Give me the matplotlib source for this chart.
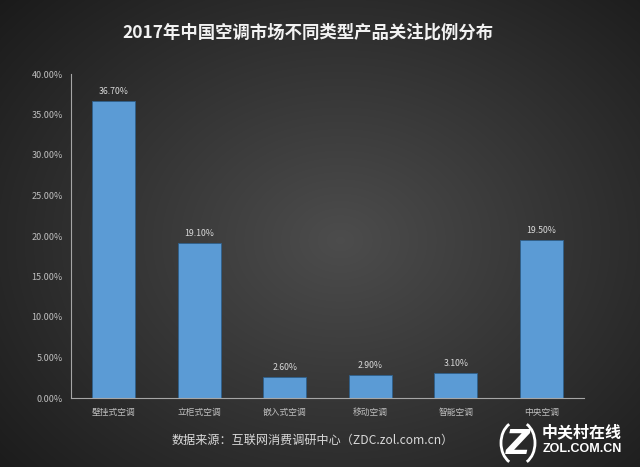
import numpy as np
import matplotlib
matplotlib.use("Agg")
import matplotlib.pyplot as plt
from matplotlib.patches import Arc

plt.rcParams['font.family'] = ['Noto Sans CJK SC', 'DejaVu Sans']

categories = ["壁挂式空调", "立柜式空调", "嵌入式空调", "移动空调", "智能空调", "中央空调"]
values = [36.70, 19.10, 2.60, 2.90, 3.10, 19.50]
yticks = [0, 5, 10, 15, 20, 25, 30, 35, 40]
title = "2017年中国空调市场不同类型产品关注比例分布"
source = "数据来源：互联网消费调研中心（ZDC.zol.com.cn）"

W, H = 640, 467
fig = plt.figure(figsize=(W/100, H/100), dpi=100)

# radial gradient background
bg = fig.add_axes([0, 0, 1, 1])
yy, xx = np.mgrid[0:H, 0:W]
r = np.sqrt(((xx - 340) / 420.0) ** 2 + ((yy - 240) / 330.0) ** 2)
val = np.clip(0.30 - 0.18 * r, 0.10, 0.31)
img = np.dstack([val, val, val])
bg.imshow(img, extent=[0, W, H, 0], aspect='auto')
bg.set_xlim(0, W); bg.set_ylim(H, 0)
bg.axis('off')

ax = fig.add_axes([71/W, 1 - 398/H, (584-71)/W, (398-74)/H])
ax.patch.set_alpha(0)
x = np.arange(len(categories))
ax.bar(x, values, width=0.5, color="#5b9bd5", edgecolor="#2e5f8a", linewidth=0.6, zorder=2)
for xi, v in zip(x, values):
    ax.text(xi, v + 0.6, f"{v:.2f}%", ha='center', va='bottom', color="#d9d9d9", fontsize=6.3)
ax.set_xlim(-0.5, len(categories) - 0.5)
ax.set_ylim(0, 40)
ax.set_yticks(yticks)
ax.set_yticklabels([f"{t:.2f}%" for t in yticks], color="#bfbfbf", fontsize=6.5)
ax.set_xticks(x)
ax.set_xticklabels(categories, color="#bfbfbf", fontsize=6.3)
ax.tick_params(axis='y', length=0, pad=6)
ax.tick_params(axis='x', length=0, pad=7)
for s in ['top', 'right']:
    ax.spines[s].set_visible(False)
for s in ['left', 'bottom']:
    ax.spines[s].set_color("#a6a6a6")
    ax.spines[s].set_linewidth(0.8)

fig.text(308/W, 1 - 33/H, title, ha='center', va='center', color='#f2f2f2',
         fontsize=12.5, fontweight='bold')
fig.text(313/W, 1 - 440/H, source, ha='center', va='center', color='#d9d9d9', fontsize=8.7)

# logo
bg.add_patch(Arc((518, 443), 34, 44, theta1=115, theta2=245, edgecolor='white', linewidth=2))
bg.add_patch(Arc((518, 443), 34, 44, theta1=-65, theta2=65, edgecolor='white', linewidth=2))
bg.text(518, 444, "Z", ha='center', va='center', color='white', fontsize=24, fontweight='bold',
        family=['DejaVu Sans'], fontstyle='italic')
bg.text(582, 432, "中关村在线", ha='center', va='center', color='white', fontsize=11.5, fontweight='bold')
bg.text(582, 449, "ZOL.COM.CN", ha='center', va='center', color='white', fontsize=9, fontweight='bold',
        family=['Liberation Sans'])

fig.savefig("out.png", dpi=100)
